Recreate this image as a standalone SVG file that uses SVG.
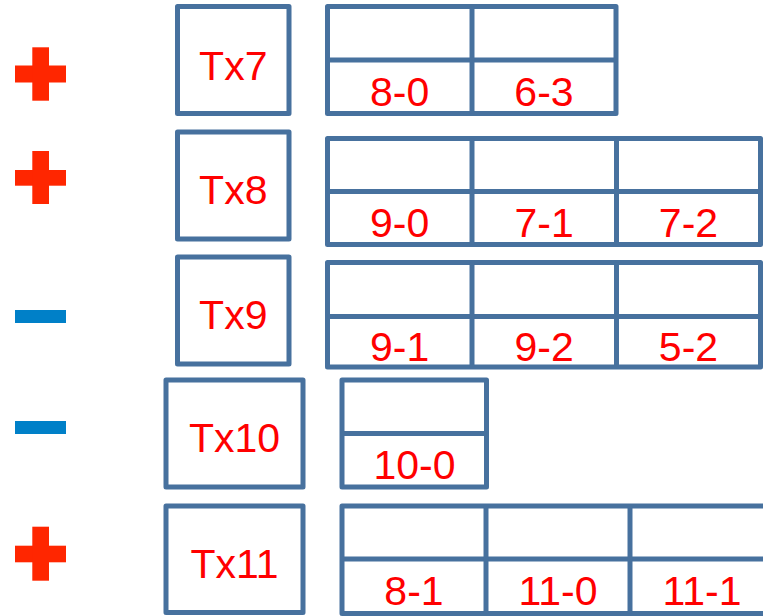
<svg xmlns="http://www.w3.org/2000/svg" width="763" height="616" viewBox="0 0 763 616">
<style>
.box{fill:#fff;stroke:#47719E;stroke-width:5;stroke-linejoin:round}
.ln{stroke:#47719E;stroke-width:5;fill:none}
.t{font-family:"Liberation Sans",Arial,sans-serif;font-size:41px;fill:#FF0000;text-anchor:middle}
.plus{fill:#FF2600}
.minus{fill:#0080C8}
</style>
<rect width="763" height="616" fill="#fff"/>
<g id="signs">
<g id="plus1" class="plus"><rect x="15" y="65.5" width="51" height="17"/><rect x="32.3" y="47.3" width="16.7" height="53.4"/></g>
<g id="plus2" class="plus"><rect x="15" y="170" width="51" height="15.7"/><rect x="32.3" y="151" width="16.7" height="53"/></g>
<g id="minus1" class="minus"><rect x="15" y="310" width="51" height="13"/></g>
<g id="minus2" class="minus"><rect x="15" y="421" width="51" height="13"/></g>
<g id="plus3" class="plus"><rect x="15" y="545.7" width="51" height="16.6"/><rect x="32.3" y="526.7" width="16.7" height="54"/></g>
</g>
<g id="tx7"><rect class="box" x="177.5" y="6.5" width="111.5" height="107"/><text class="t" x="233.3" y="80">Tx7</text></g>
<g id="tx8"><rect class="box" x="177.5" y="132" width="111.5" height="107"/><text class="t" x="233.3" y="203.5">Tx8</text></g>
<g id="tx9"><rect class="box" x="177.5" y="257" width="111.5" height="107"/><text class="t" x="233.3" y="328.5">Tx9</text></g>
<g id="tx10"><rect class="box" x="166" y="380" width="137" height="107"/><text class="t" x="234.5" y="452.3">Tx10</text></g>
<g id="tx11"><rect class="box" x="166" y="506" width="137" height="106.5"/><text class="t" x="234.5" y="577.7">Tx11</text></g>
<g id="table7">
<rect class="box" x="327.5" y="6.5" width="288.5" height="107"/>
<line class="ln" x1="327.5" y1="60" x2="616" y2="60"/>
<line class="ln" x1="472" y1="6.5" x2="472" y2="113.5"/>
<text class="t" x="399.7" y="106">8-0</text><text class="t" x="544" y="106">6-3</text>
</g>
<g id="table8">
<rect class="box" x="327.5" y="138.5" width="433" height="106"/>
<line class="ln" x1="327.5" y1="191.5" x2="760.5" y2="191.5"/>
<line class="ln" x1="472" y1="138.5" x2="472" y2="244.5"/>
<line class="ln" x1="616.5" y1="138.5" x2="616.5" y2="244.5"/>
<text class="t" x="399.7" y="237.3">9-0</text><text class="t" x="544.2" y="237.3">7-1</text><text class="t" x="688.5" y="237.3">7-2</text>
</g>
<g id="table9">
<rect class="box" x="327.5" y="262.5" width="433" height="104.5"/>
<line class="ln" x1="327.5" y1="316.5" x2="760.5" y2="316.5"/>
<line class="ln" x1="472" y1="262.5" x2="472" y2="367"/>
<line class="ln" x1="616.5" y1="262.5" x2="616.5" y2="367"/>
<text class="t" x="399.7" y="360.5">9-1</text><text class="t" x="544.2" y="360.5">9-2</text><text class="t" x="688.5" y="360.5">5-2</text>
</g>
<g id="table10">
<rect class="box" x="342" y="380" width="144.5" height="107"/>
<line class="ln" x1="342" y1="433.5" x2="486.5" y2="433.5"/>
<text class="t" x="414.5" y="479.3">10-0</text>
</g>
<g id="table11">
<rect class="box" x="342" y="506" width="432" height="107.5"/>
<line class="ln" x1="342" y1="559" x2="774" y2="559"/>
<line class="ln" x1="486" y1="506" x2="486" y2="613.5"/>
<line class="ln" x1="630" y1="506" x2="630" y2="613.5"/>
<text class="t" x="414" y="605">8-1</text><text class="t" x="558" y="605">11-0</text><text class="t" x="702" y="605">11-1</text>
</g>
</svg>
